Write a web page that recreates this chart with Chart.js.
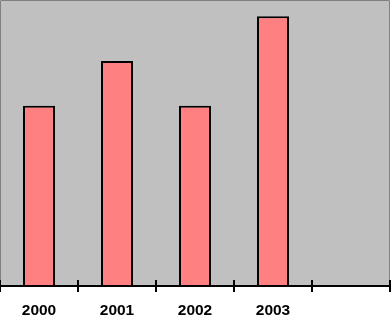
<!DOCTYPE html>
<html>
<head>
<meta charset="utf-8">
<script src="https://cdn.jsdelivr.net/npm/chart.js@4"></script>
<style>
html,body{margin:0;padding:0;background:#fff;}
#wrap{width:391px;height:319px;}
</style>
</head>
<body>
<div id="wrap"><canvas id="c" width="391" height="319"></canvas></div>
<script>
const categories = ['2000', '2001', '2002', '2003', ''];
const values = [40, 50, 40, 60, null];
const yMax = 63.4;

const frame = {
  id: 'frame',
  beforeDraw(chart) {
    const {ctx, chartArea: a} = chart;
    ctx.save();
    ctx.fillStyle = '#C0C0C0';
    ctx.fillRect(a.left + 1, a.top, a.right - a.left - 2, a.bottom - a.top);
    ctx.strokeStyle = '#808080';
    ctx.lineWidth = 1;
    ctx.beginPath();
    ctx.moveTo(a.left + 0.5, a.bottom);
    ctx.lineTo(a.left + 0.5, a.top - 0.5);
    ctx.lineTo(a.right - 0.5, a.top - 0.5);
    ctx.lineTo(a.right - 0.5, a.bottom);
    ctx.stroke();
    ctx.restore();
  },
  afterDraw(chart) {
    const {ctx} = chart;
    const xs = chart.scales.x;
    const n = categories.length;
    const y = chart.chartArea.bottom + 1;
    ctx.save();
    ctx.strokeStyle = '#000';
    ctx.lineWidth = 2;
    ctx.beginPath();
    ctx.moveTo(xs.left, y);
    ctx.lineTo(xs.right, y);
    for (let i = 0; i <= n; i++) {
      const x = Math.round(xs.left + i * (xs.right - xs.left) / n);
      ctx.moveTo(x, y - 6);
      ctx.lineTo(x, y + 6);
    }
    ctx.stroke();
    ctx.restore();
  }
};

new Chart(document.getElementById('c'), {
  type: 'bar',
  data: {
    labels: categories,
    datasets: [{
      data: values,
      backgroundColor: '#FF8080',
      borderColor: '#000000',
      borderWidth: 2,
      borderSkipped: 'bottom',
      barPercentage: 0.41,
      categoryPercentage: 1
    }]
  },
  options: {
    responsive: false,
    animation: false,
    devicePixelRatio: 1,
    layout: {padding: {left: 0, right: 1, top: 1, bottom: 0}},
    plugins: {legend: {display: false}, tooltip: {enabled: false}},
    scales: {
      x: {
        offset: true,
        grid: {display: false},
        border: {display: false},
        afterFit(scale) { scale.height = 34; },
        ticks: {
          color: '#000',
          padding: 8,
          maxRotation: 0,
          font: {family: '"Liberation Sans", Arial, sans-serif', size: 15.5, weight: 'bold'}
        }
      },
      y: {
        display: false,
        min: 0,
        max: yMax
      }
    }
  },
  plugins: [frame]
});
</script>
</body>
</html>
